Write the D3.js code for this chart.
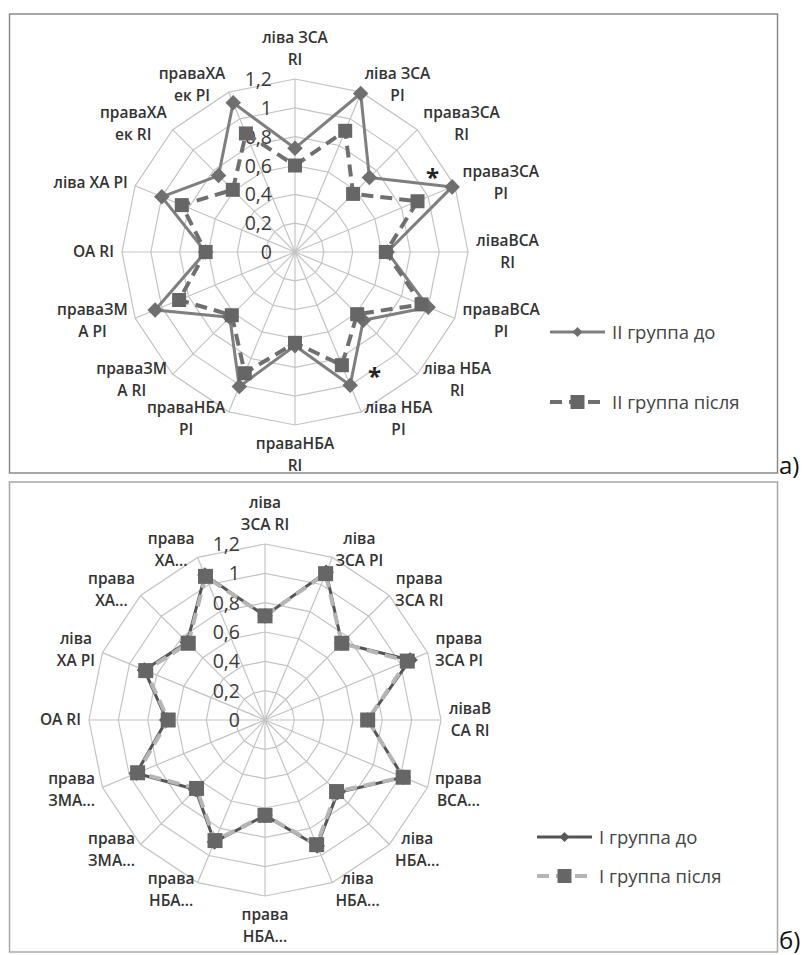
<!DOCTYPE html>
<html>
<head>
<meta charset="utf-8">
<script src="https://cdn.jsdelivr.net/npm/d3@7"></script>
<style>
body { margin: 0; background: #fff; }
text { font-family: "Open Sans", Lato, sans-serif; }
</style>
</head>
<body>
<div id="chart-area"></div>
<script>
// categories, clockwise from the top
var categoriesA = [
  ["ліва ЗСА", "RI"], ["ліва ЗСА", "PI"], ["праваЗСА", "RI"], ["праваЗСА", "PI"],
  ["ліваВСА", "RI"], ["праваВСА", "PI"], ["ліва НБА", "RI"], ["ліва НБА", "PI"],
  ["праваНБА", "RI"], ["праваНБА", "PI"], ["праваЗМ", "А RI"], ["праваЗМ", "А PI"],
  ["ОА RI"], ["ліва ХА PI"], ["праваХА", "ек RI"], ["праваХА", "ек PI"]
];
var categoriesB = [
  ["ліва", "ЗСА RI"], ["ліва", "ЗСА PI"], ["права", "ЗСА RI"], ["права", "ЗСА PI"],
  ["ліваВ", "СА RI"], ["права", "ВСА..."], ["ліва", "НБА..."], ["ліва", "НБА..."],
  ["права", "НБА..."], ["права", "НБА..."], ["права", "ЗМА..."], ["права", "ЗМА..."],
  ["ОА RI"], ["ліва", "ХА PI"], ["права", "ХА..."], ["права", "ХА..."]
];

var tickValues = [0, 0.2, 0.4, 0.6, 0.8, 1, 1.2];
var tickLabels = ["0", "0,2", "0,4", "0,6", "0,8", "1", "1,2"];

var seriesNamesA = ["II группа до", "II группа після"];
var groupIIBefore = [0.72, 1.19, 0.73, 1.18, 0.64, 1.00, 0.67, 1.00, 0.65, 1.01, 0.64, 1.05, 0.62, 1.00, 0.75, 1.12];
var groupIIAfter  = [0.60, 0.91, 0.57, 0.92, 0.63, 0.95, 0.61, 0.85, 0.63, 0.91, 0.62, 0.87, 0.62, 0.85, 0.61, 0.89];

var seriesNamesB = ["I группа до", "I группа після"];
var groupIBefore = [0.71, 1.09, 0.74, 1.07, 0.70, 1.02, 0.70, 0.93, 0.65, 0.90, 0.67, 0.95, 0.67, 0.89, 0.75, 1.07];
var groupIAfter  = [0.71, 1.08, 0.74, 1.05, 0.70, 1.02, 0.69, 0.92, 0.65, 0.89, 0.66, 0.94, 0.66, 0.88, 0.74, 1.06];

// significance marks on chart a: [fractional category position, value]
var asterisksA = [[2.67, 1.10], [6.51, 1.00]];

var panelLabels = ["а)", "б)"];

var svg = d3.select("#chart-area")
  .append("svg")
  .attr("width", 802)
  .attr("height", 955);

var square = d3.symbol().type(d3.symbolSquare);

function drawRadar(opt) {
  var n = opt.categories.length;
  var step = 2 * Math.PI / n;

  svg.append("rect")
    .attr("x", opt.frame[0])
    .attr("y", opt.frame[1])
    .attr("width", opt.frame[2])
    .attr("height", opt.frame[3])
    .attr("fill", "none")
    .attr("stroke", opt.frameColor)
    .attr("stroke-width", 1.5);

  var g = svg.append("g")
    .attr("transform", "translate(" + opt.cx + ", " + opt.cy + ")");

  var r = d3.scaleLinear()
    .domain([0, 1.2])
    .range([0, opt.radius]);

  var idx = d3.range(n);

  // rings
  var ring = d3.lineRadial()
    .angle(function(i){ return i * step; })
    .curve(d3.curveLinearClosed);

  g.selectAll(".ring")
    .data(tickValues.slice(1))
    .enter()
    .append("path")
    .attr("class", "ring")
    .attr("d", function(v){ return ring.radius(r(v))(idx); })
    .attr("fill", "none")
    .attr("stroke", "#c4c4c4")
    .attr("stroke-width", 1.2);

  // spokes
  g.selectAll(".spoke")
    .data(idx)
    .enter()
    .append("line")
    .attr("class", "spoke")
    .attr("x1", 0)
    .attr("y1", 0)
    .attr("x2", function(i){ return r(1.2) * Math.sin(i * step); })
    .attr("y2", function(i){ return -r(1.2) * Math.cos(i * step); })
    .attr("stroke", "#c4c4c4")
    .attr("stroke-width", 1.2);

  // tick labels
  g.selectAll(".tick")
    .data(tickValues)
    .enter()
    .append("text")
    .attr("class", "tick")
    .attr("x", -opt.tickOffset)
    .attr("y", function(v){ return -r(v) + 7; })
    .attr("text-anchor", "end")
    .attr("font-size", 19.5)
    .attr("fill", "#3a3a3a")
    .text(function(v, i){ return tickLabels[i]; });

  // category labels
  var lh = 22;
  opt.categories.forEach(function(lines, i){
    var a = i * step;
    var s = Math.sin(a), c = Math.cos(a);
    var px = (opt.radius + 8) * s;
    var py = -(opt.radius + 8) * c;
    var t = g.append("text")
      .attr("text-anchor", "middle")
      .attr("font-size", 15.5)
      .attr("font-weight", 600)
      .attr("fill", "#333");
    lines.forEach(function(line, j){
      t.append("tspan")
        .attr("x", 0)
        .attr("dy", j === 0 ? 0 : lh)
        .text(line);
    });
    var w = t.node().getBBox().width;
    var x = px, y;
    if (Math.abs(s) > 0.05) x = px + (s > 0 ? w / 2 : -w / 2);
    if (Math.abs(s) <= 0.05 && c > 0) y = py - (lines.length - 1) * lh - 6;
    else if (Math.abs(s) <= 0.05 && c < 0) y = py + 16;
    else y = py - (lines.length - 1) * lh / 2 + 5;
    t.attr("transform", "translate(" + x + ", " + y + ")");
  });

  // series
  opt.series.forEach(function(sr){
    var line = d3.lineRadial()
      .angle(function(d, i){ return i * step; })
      .radius(function(d){ return r(d); })
      .curve(d3.curveLinearClosed);

    g.append("path")
      .attr("d", line(sr.values))
      .attr("fill", "none")
      .attr("stroke", sr.color)
      .attr("stroke-width", sr.width)
      .attr("stroke-dasharray", sr.dash)
      .attr("stroke-linejoin", "round");
  });

  opt.series.forEach(function(sr){
    g.selectAll(null)
      .data(sr.values)
      .enter()
      .append("path")
      .attr("transform", function(d, i){
        var a = i * step;
        return "translate(" + (r(d) * Math.sin(a)) + ", " + (-r(d) * Math.cos(a)) + ")" +
          (sr.marker === "diamond" ? " rotate(45)" : "");
      })
      .attr("d", square.size(sr.markerSize * sr.markerSize))
      .attr("fill", sr.markerColor);
  });

  // legend
  opt.series.forEach(function(sr, k){
    var ly = opt.legend[1] + k * opt.legendGap;
    var lg = svg.append("g")
      .attr("transform", "translate(" + opt.legend[0] + ", " + ly + ")");
    lg.append("line")
      .attr("x1", 0)
      .attr("x2", 55)
      .attr("stroke", sr.color)
      .attr("stroke-width", sr.width)
      .attr("stroke-dasharray", sr.dash);
    lg.append("path")
      .attr("transform", "translate(27.5, 0)" + (sr.marker === "diamond" ? " rotate(45)" : ""))
      .attr("d", square.size(sr.marker === "diamond" ? 50 : 196))
      .attr("fill", sr.markerColor);
    lg.append("text")
      .attr("x", 62)
      .attr("y", 6.5)
      .attr("font-size", 18.5)
      .attr("fill", "#444")
      .text(sr.name);
  });

  svg.append("text")
    .attr("x", 779)
    .attr("y", opt.panelY)
    .attr("font-family", "Liberation Serif, serif")
    .attr("font-size", 24)
    .attr("fill", "#111")
    .text(opt.panel);

  return {g: g, r: r, step: step};
}

var chartA = drawRadar({
  frame: [9.5, 14, 768, 459],
  frameColor: "#8a8a8a",
  cx: 295, cy: 252, radius: 173,
  tickOffset: 23,
  categories: categoriesA,
  series: [
    {name: seriesNamesA[0], values: groupIIBefore, color: "#7f7f7f", width: 3, dash: null,
      marker: "diamond", markerSize: 11, markerColor: "#6f6f6f"},
    {name: seriesNamesA[1], values: groupIIAfter, color: "#6f6f6f", width: 4, dash: "12,7",
      marker: "square", markerSize: 14, markerColor: "#666"}
  ],
  legend: [550, 332], legendGap: 70,
  panel: panelLabels[0], panelY: 474
});

chartA.g.selectAll(".star")
  .data(asterisksA)
  .enter()
  .append("text")
  .attr("class", "star")
  .attr("x", function(d){ return chartA.r(d[1]) * Math.sin(d[0] * chartA.step); })
  .attr("y", function(d){ return -chartA.r(d[1]) * Math.cos(d[0] * chartA.step) + 13; })
  .attr("text-anchor", "middle")
  .attr("font-size", 24)
  .attr("font-weight", 700)
  .attr("fill", "#222")
  .text("*");

drawRadar({
  frame: [9.5, 482, 768, 470],
  frameColor: "#a8a8a8",
  cx: 265, cy: 720, radius: 176,
  tickOffset: 25,
  categories: categoriesB,
  series: [
    {name: seriesNamesB[0], values: groupIBefore, color: "#555", width: 3, dash: null,
      marker: "diamond", markerSize: 11, markerColor: "#5a5a5a"},
    {name: seriesNamesB[1], values: groupIAfter, color: "#b5b5b5", width: 4, dash: "12,7",
      marker: "square", markerSize: 15, markerColor: "#666"}
  ],
  legend: [537, 837], legendGap: 39,
  panel: panelLabels[1], panelY: 949
});
</script>
</body>
</html>
